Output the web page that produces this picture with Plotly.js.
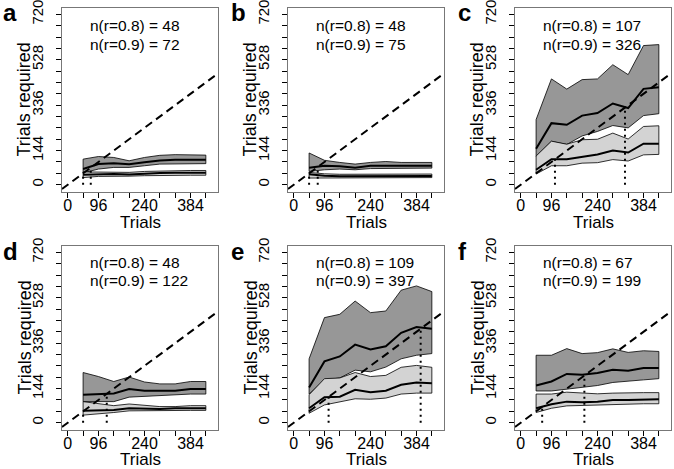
<!DOCTYPE html>
<html>
<head>
<meta charset="utf-8">
<script src="https://cdn.plot.ly/plotly-3.0.1.min.js"></script>
<style>html,body{margin:0;padding:0;background:#fff;}#chart{width:674px;height:469px;}</style>
</head>
<body>
<div id="chart"></div>
<script>
// ---- data ----
const trials = [48, 96, 144, 192, 240, 288, 336, 384, 432];
const panelLetters = ['a', 'b', 'c', 'd', 'e', 'f'];
const n08 = [48, 48, 107, 48, 109, 67];
const n09 = [72, 75, 326, 122, 397, 199];

const a_hi9  = [108, 119, 115, 101, 115, 124, 127, 127, 125];
const a_med9 = [66, 87, 91, 86, 95, 102, 105, 105, 105];
const a_lo9  = [50, 66, 73, 73, 80, 87, 89, 89, 89];
const a_hi8  = [54, 53, 55, 52, 56, 58, 60, 60, 60];
const a_med8 = [42, 44, 45, 43, 47, 49, 50, 50, 50];
const a_lo8  = [30, 35, 36, 36, 38, 40, 40, 40, 40];

const b_hi9  = [134, 103, 94, 87, 94, 98, 94, 94, 94];
const b_med9 = [72, 80, 78, 72, 80, 81, 80, 80, 80];
const b_lo9  = [56, 63, 66, 63, 68, 70, 70, 70, 70];
const b_hi8  = [52, 46, 44, 44, 45, 45, 45, 45, 45];
const b_med8 = [44, 38, 36, 36, 37, 37, 37, 37, 37];
const b_lo8  = [28, 29, 29, 28, 29, 30, 30, 30, 30];

const c_hi9  = [275, 447, 404, 444, 447, 507, 465, 588, 592];
const c_med9 = [152, 260, 253, 292, 303, 343, 324, 405, 412];
const c_lo9  = [119, 183, 170, 206, 225, 250, 240, 292, 300];
const c_hi8  = [121, 184, 171, 190, 192, 218, 193, 246, 249];
const c_med8 = [63, 108, 108, 119, 128, 144, 136, 173, 173];
const c_lo8  = [45, 80, 80, 91, 93, 106, 100, 126, 128];

const d_hi9  = [212, 195, 174, 193, 172, 164, 164, 174, 174];
const d_med9 = [118, 121, 123, 142, 135, 135, 135, 142, 142];
const d_lo9  = [89, 89, 89, 108, 110, 115, 118, 121, 121];
const d_hi8  = [89, 82, 72, 79, 72, 68, 68, 72, 72];
const d_med8 = [50, 52, 54, 61, 58, 58, 61, 61, 61];
const d_lo8  = [32, 36, 43, 50, 50, 50, 52, 52, 52];

const e_hi9  = [270, 444, 458, 514, 465, 472, 560, 578, 554];
const e_med9 = [149, 259, 280, 330, 309, 323, 380, 404, 397];
const e_lo9  = [121, 181, 189, 222, 215, 235, 270, 285, 292];
const e_hi8  = [118, 186, 189, 212, 195, 200, 234, 242, 234];
const e_med8 = [61, 108, 110, 139, 129, 135, 160, 170, 167];
const e_lo8  = [40, 75, 89, 101, 99, 104, 121, 125, 125];

const f_hi9  = [285, 285, 313, 292, 296, 312, 297, 304, 301];
const f_med9 = [157, 174, 206, 203, 210, 224, 220, 231, 231];
const f_lo9  = [134, 134, 143, 149, 157, 170, 174, 181, 186];
const f_hi8  = [121, 121, 129, 125, 122, 125, 127, 127, 127];
const f_med8 = [61, 78, 89, 86, 89, 96, 96, 99, 99];
const f_lo8  = [43, 61, 71, 73, 73, 78, 78, 80, 80];

const xTickVals = [0, 48, 96, 144, 192, 240, 288, 336, 384, 432];
const xTickText = ['0', '', '96', '', '', '240', '', '', '384', ''];
const yTickVals = [0, 48, 96, 144, 192, 240, 288, 336, 384, 432, 480, 528, 576, 624, 672, 720];
const yTickText = ['0', '', '', '144', '', '', '', '336', '', '', '', '528', '', '', '', '720'];

// ---- layout geometry ----
const W = 674, H = 469;
const X_RANGE = [-18, 470];
const Y_RANGE = [-28.8, 748.8];
const colLeft = [62, 288, 515];
const boxW = 156;
const rowTop = [7.5, 245.5];
const boxH = 184;
const FONT = 'Liberation Sans, Arial, Helvetica, sans-serif';
const DARK = '#979797', LIGHT = '#d3d3d3';

const panels = [
  [a_hi9, a_med9, a_lo9, a_hi8, a_med8, a_lo8],
  [b_hi9, b_med9, b_lo9, b_hi8, b_med8, b_lo8],
  [c_hi9, c_med9, c_lo9, c_hi8, c_med8, c_lo8],
  [d_hi9, d_med9, d_lo9, d_hi8, d_med8, d_lo8],
  [e_hi9, e_med9, e_lo9, e_hi8, e_med8, e_lo8],
  [f_hi9, f_med9, f_lo9, f_hi8, f_med8, f_lo8]
];

const traces = [];
const layout = {
  width: W, height: H,
  margin: {l: 0, r: 0, t: 0, b: 0},
  paper_bgcolor: '#fff', plot_bgcolor: '#fff',
  showlegend: false,
  font: {family: FONT, color: '#000'},
  annotations: []
};

function band(hi, lo, color, xa, ya) {
  const xs = trials.concat(trials.slice().reverse(), [trials[0]]);
  const ys = hi.concat(lo.slice().reverse(), [hi[0]]);
  return {x: xs, y: ys, xaxis: xa, yaxis: ya, type: 'scatter', mode: 'lines',
    fill: 'toself', fillcolor: color, line: {color: '#000', width: 0.8}, hoverinfo: 'skip'};
}
function med(vals, xa, ya) {
  return {x: trials, y: vals, xaxis: xa, yaxis: ya, type: 'scatter', mode: 'lines',
    line: {color: '#000', width: 2}, hoverinfo: 'skip'};
}

panels.forEach((p, i) => {
  const col = i % 3, row = Math.floor(i / 3);
  const k = i === 0 ? '' : String(i + 1);
  const xa = 'x' + k, ya = 'y' + k;
  const [hi9, med9, lo9, hi8, med8, lo8] = p;

  traces.push(band(hi9, lo9, DARK, xa, ya));
  traces.push(band(hi8, lo8, LIGHT, xa, ya));
  traces.push(med(med9, xa, ya));
  traces.push(med(med8, xa, ya));
  // identity line
  traces.push({x: X_RANGE, y: X_RANGE, xaxis: xa, yaxis: ya, type: 'scatter', mode: 'lines',
    line: {color: '#000', width: 2, dash: '8px,5px'}, hoverinfo: 'skip'});
  // dotted lines at n
  [n08[i], n09[i]].forEach(n => {
    traces.push({x: [n, n], y: [0, n], xaxis: xa, yaxis: ya, type: 'scatter', mode: 'lines',
      line: {color: '#000', width: 2, dash: '2px,4px'}, hoverinfo: 'skip'});
  });

  const L = colLeft[col], T = rowTop[row];
  layout['xaxis' + k] = {
    domain: [L / W, (L + boxW) / W], anchor: ya, range: X_RANGE,
    tickmode: 'array', tickvals: xTickVals, ticktext: xTickText,
    ticks: 'outside', ticklen: 5, tickwidth: 1, tickcolor: '#000',
    ticklabelstandoff: -6, ticklabeloverflow: 'allow',
    showline: true, mirror: true, linecolor: '#777', linewidth: 1,
    showgrid: false, zeroline: false, tickfont: {size: 16, family: FONT, color: '#000'}
  };
  layout['yaxis' + k] = {
    domain: [1 - (T + boxH) / H, 1 - T / H], anchor: xa, range: Y_RANGE,
    tickmode: 'array', tickvals: yTickVals, ticktext: yTickText, tickangle: -90,
    ticks: 'outside', ticklen: 5, tickwidth: 1, tickcolor: '#000',
    ticklabelstandoff: 7, ticklabeloverflow: 'allow',
    showline: true, mirror: true, linecolor: '#777', linewidth: 1,
    showgrid: false, zeroline: false, tickfont: {size: 15, family: FONT, color: '#000'}
  };

  const rowOff = row === 0 ? 0 : 236.5;
  // panel letter
  layout.annotations.push({text: '<b>' + panelLetters[i] + '</b>', xref: 'paper', yref: 'paper',
    x: [1, 229, 456][col] / W, y: 1 - (12.2 + (row === 0 ? 0 : 238.8)) / H,
    xanchor: 'left', yanchor: 'middle', showarrow: false,
    font: {size: 24, family: FONT, color: '#000'}});
  // n labels
  layout.annotations.push({text: 'n(r=0.8) = ' + n08[i], xref: xa + ' domain', yref: 'paper',
    x: 0.165, y: 1 - (26 + rowOff) / H,
    xanchor: 'left', yanchor: 'middle', showarrow: false,
    font: {size: 15.5, family: FONT, color: '#000'}});
  layout.annotations.push({text: 'n(r=0.9) = ' + n09[i], xref: xa + ' domain', yref: 'paper',
    x: 0.165, y: 1 - (44.3 + rowOff) / H,
    xanchor: 'left', yanchor: 'middle', showarrow: false,
    font: {size: 15.5, family: FONT, color: '#000'}});
  // axis titles
  layout.annotations.push({text: 'Trials', xref: 'paper', yref: 'paper',
    x: (L + boxW / 2) / W, y: 1 - (222.5 + (row === 0 ? 0 : 236.5)) / H,
    xanchor: 'center', yanchor: 'middle', showarrow: false,
    font: {size: 17, family: FONT, color: '#000'}});
  layout.annotations.push({text: 'Trials required', xref: 'paper', yref: 'paper',
    x: (L - 38) / W, y: 1 - (T + boxH / 2) / H, textangle: -90,
    xanchor: 'center', yanchor: 'middle', showarrow: false,
    font: {size: 18, family: FONT, color: '#000'}});
});

Plotly.newPlot('chart', traces, layout, {staticPlot: true, displayModeBar: false});
</script>
</body>
</html>
